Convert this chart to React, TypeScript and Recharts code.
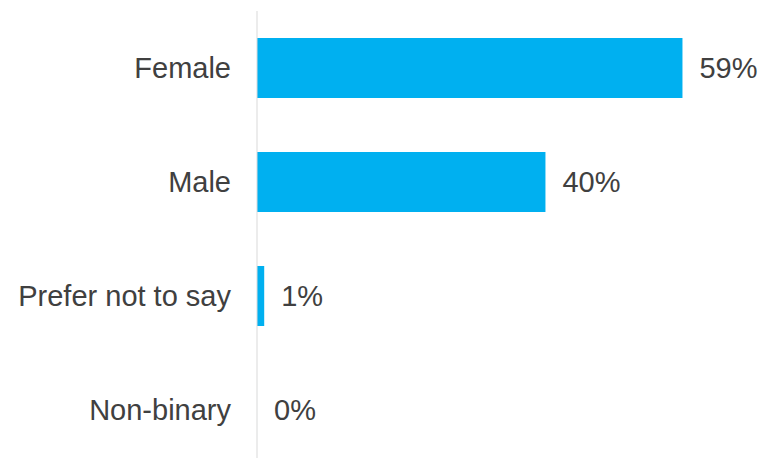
import { BarChart, Bar, XAxis, YAxis, LabelList } from "recharts";

// survey answers, in display order
const categories = ["Female", "Male", "Prefer not to say", "Non-binary"];
const shares = [59, 40, 1, 0];

const data = categories.map((name, i) => ({ name, share: shares[i] }));

const textColor = "#404040";
const barColor = "#00b0f0";
const fontFamily = "'Liberation Sans', Arial, sans-serif";

export default function App() {
  return (
    <div
      style={{
        position: "absolute",
        left: 0,
        top: 0,
        width: 769,
        height: 458,
        overflow: "hidden",
        background: "#fff",
        fontFamily,
      }}
    >
      <BarChart
        width={769}
        height={470}
        data={data}
        layout="vertical"
        margin={{ top: 11, right: 0, bottom: 3, left: 0 }}
        barSize={60}
      >
        <XAxis type="number" domain={[0, 71]} hide />
        <YAxis
          type="category"
          dataKey="name"
          width={257}
          axisLine={{ stroke: "#d9d9d9", strokeWidth: 1 }}
          tickLine={false}
          tickSize={0}
          tickMargin={26}
          tick={{ fill: textColor, fontSize: 29, fontFamily }}
        />
        {/* tiny minPointSize keeps the 0% row so its label still draws */}
        <Bar dataKey="share" fill={barColor} minPointSize={0.01} isAnimationActive={false}>
          <LabelList
            dataKey="share"
            position="right"
            offset={17}
            formatter={(v: number) => `${v}%`}
            fill={textColor}
            fontSize={29}
            fontFamily={fontFamily}
          />
        </Bar>
      </BarChart>
    </div>
  );
}
